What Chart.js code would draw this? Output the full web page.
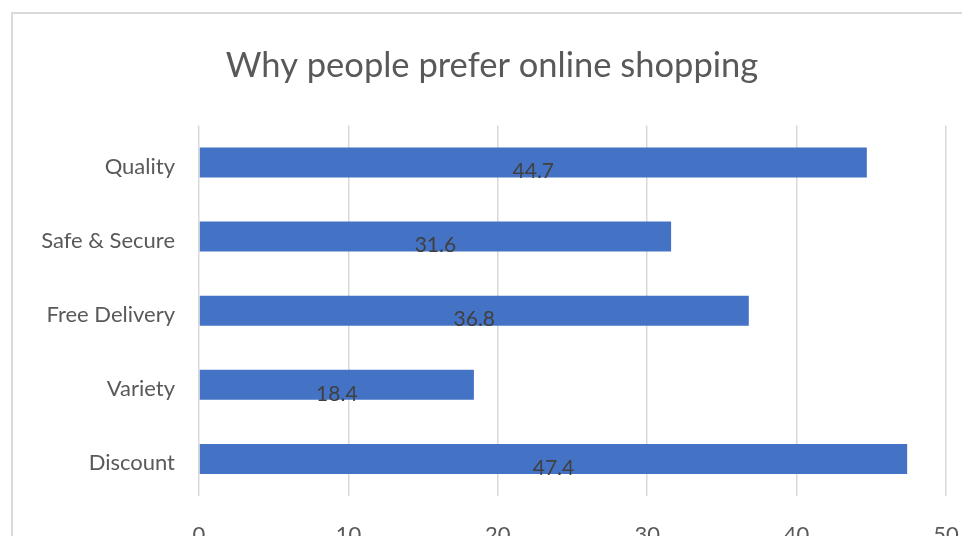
<!DOCTYPE html>
<html>
<head>
<meta charset="utf-8">
<script src="https://cdn.jsdelivr.net/npm/chart.js@4.4.1/dist/chart.umd.min.js"></script>
<style>
  html, body { margin: 0; padding: 0; background: #fff; overflow: hidden; }
  #frame { position: absolute; left: 11px; top: 12px; width: 1000px; height: 600px;
           border: 2px solid #d9d9d9; box-sizing: border-box; }
  #wrap { position: absolute; left: 0; top: 0; width: 984px; height: 580px; }
</style>
</head>
<body>
<div id="frame"></div>
<div id="wrap"><canvas id="myChart"></canvas></div>
<script>
const chartTitle = 'Why people prefer online shopping';
const categories = ['Quality', 'Safe & Secure', 'Free Delivery', 'Variety', 'Discount'];
const values = [44.7, 31.6, 36.8, 18.4, 47.4];
const xTicks = [0, 10, 20, 30, 40, 50];

const fontFamily = 'Lato, "Open Sans", sans-serif';
const textColor = '#595959';

// draws the value in the middle of every bar, a bit below centre like excel
const barLabels = {
  id: 'barLabels',
  afterDatasetsDraw(chart) {
    const ctx = chart.ctx;
    const meta = chart.getDatasetMeta(0);
    ctx.save();
    ctx.font = '21px ' + fontFamily;
    ctx.fillStyle = '#404040';
    ctx.textAlign = 'center';
    ctx.textBaseline = 'middle';
    meta.data.forEach((bar, i) => {
      let mid = (bar.x + bar.base) / 2;
      ctx.fillText(values[i].toString(), mid, bar.y + 9);
    });
    ctx.restore();
  }
};

const ctx = document.getElementById('myChart');
var shopChart = new Chart(ctx, {
  type: 'bar',
  data: {
    labels: categories,
    datasets: [{
      data: values,
      backgroundColor: '#4472C4',
      borderWidth: 0,
      categoryPercentage: 1,
      barPercentage: 0.404
    }]
  },
  plugins: [barLabels],
  options: {
    indexAxis: 'y',
    animation: false,
    responsive: true,
    maintainAspectRatio: false,
    layout: {
      // left/right padding equal so the title centres over the frame
      padding: { left: 38, right: 38, top: 0, bottom: 0 }
    },
    plugins: {
      legend: { display: false },
      tooltip: { enabled: false },
      title: {
        display: true,
        text: chartTitle,
        color: textColor,
        font: { family: fontFamily, size: 34.5, weight: 'normal' },
        padding: { top: 45, bottom: 39 }
      }
    },
    scales: {
      x: {
        min: 0,
        max: 50,
        afterBuildTicks: function(axis) {
          axis.ticks = xTicks.map(v => ({ value: v }));
        },
        afterFit: function(axis) {
          axis.height = 84;
          axis.paddingLeft = 0;
          axis.paddingRight = 0;
        },
        border: { display: false },
        grid: {
          color: '#d9d9d9',
          lineWidth: 1.5,
          drawTicks: false
        },
        ticks: {
          color: textColor,
          padding: 26,
          maxRotation: 0,
          font: { family: fontFamily, size: 22 }
        }
      },
      y: {
        afterFit: function(axis) {
          axis.width = 161;
        },
        border: { display: false },
        grid: { display: false, drawTicks: false },
        ticks: {
          color: textColor,
          padding: 24,
          labelOffset: 4,
          font: { family: fontFamily, size: 22 }
        }
      }
    }
  }
});
</script>
</body>
</html>
